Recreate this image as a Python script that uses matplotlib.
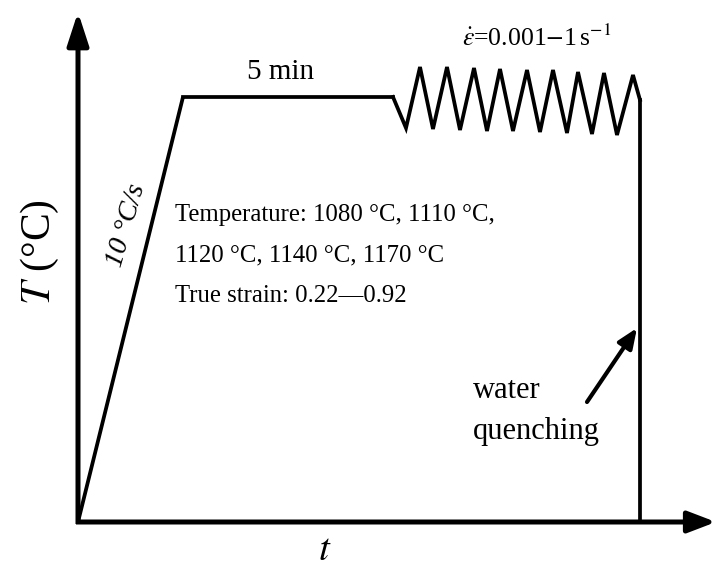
import matplotlib
matplotlib.use("Agg")
import matplotlib.pyplot as plt
from matplotlib.patches import FancyArrowPatch

plt.rcParams['font.family'] = ['Liberation Serif', 'DejaVu Serif']
plt.rcParams['mathtext.fontset'] = 'stix'

# Schematic thermal history (arbitrary time / temperature units)
ramp_t = [0, 105]
ramp_T = [0, 425]
hold_t = [105, 315]
hold_T = [425, 425]
cycle_t = [315, 328, 342, 355, 369, 382, 396, 409, 422, 435, 449, 462, 475, 489, 500, 514, 526, 539, 555, 562]
cycle_T = [425, 394, 455, 393, 455, 392, 454, 391, 453, 391, 452, 390, 452, 389, 450, 388, 449, 387, 447, 422]
quench_t = [562, 562]
quench_T = [422, 0]

fig = plt.figure(figsize=(7.16, 5.71), dpi=100)
ax = fig.add_axes([0, 0, 1, 1])
ax.set_xlim(-78, 638)
ax.set_ylim(-49, 522)
ax.axis('off')

lw = 2.7
ax.plot(ramp_t, ramp_T, color='black', lw=lw, solid_capstyle='butt')
ax.plot(hold_t, hold_T, color='black', lw=lw)
ax.plot(cycle_t, cycle_T, color='black', lw=lw, solid_joinstyle='miter')
ax.plot(quench_t, quench_T, color='black', lw=lw)

# Axes with arrowheads
ax.add_patch(FancyArrowPatch((0, -2), (0, 510), arrowstyle='-|>,head_length=20,head_width=6.5',
                             mutation_scale=1, lw=3.6, color='black', shrinkA=0, shrinkB=0,
                             capstyle='butt'))
ax.add_patch(FancyArrowPatch((-2, 0), (638, 0), arrowstyle='-|>,head_length=17,head_width=6.5',
                             mutation_scale=1, lw=3.6, color='black', shrinkA=0, shrinkB=0,
                             capstyle='butt'))

# Axis labels
ax.text(-38, 270, r'$T$ (°C)', fontsize=30, rotation=90, ha='center', va='center')
ax.text(247, -28, r'$t$', fontsize=28, ha='center', va='center')

# Annotations
ax.text(203, 450, '5 min', fontsize=21, ha='center', va='center')
ax.text(459, 484, r'$\dot{\varepsilon}$=0.001$-$1$\,$s$^{-1}$', fontsize=18.5,
        ha='center', va='center')
ax.text(48, 297, '10 °C/s', fontsize=20.5, rotation=74, ha='center', va='center',
        style='italic')
ax.text(97, 307, 'Temperature: 1080 °C, 1110 °C,', fontsize=17.8, ha='left', va='center')
ax.text(97, 267, '1120 °C, 1140 °C, 1170 °C', fontsize=17.8, ha='left', va='center')
ax.text(97, 226, 'True strain: 0.22\u20140.92', fontsize=17.8, ha='left', va='center')
ax.text(395, 124, 'water', fontsize=22, ha='left', va='baseline')
ax.text(395, 83, 'quenching', fontsize=22, ha='left', va='baseline')
ax.add_patch(FancyArrowPatch((509, 120), (559, 194), arrowstyle='-|>,head_length=12,head_width=5',
                             mutation_scale=1, lw=3, color='black', shrinkA=0, shrinkB=0))

fig.savefig('out.png', dpi=100)
